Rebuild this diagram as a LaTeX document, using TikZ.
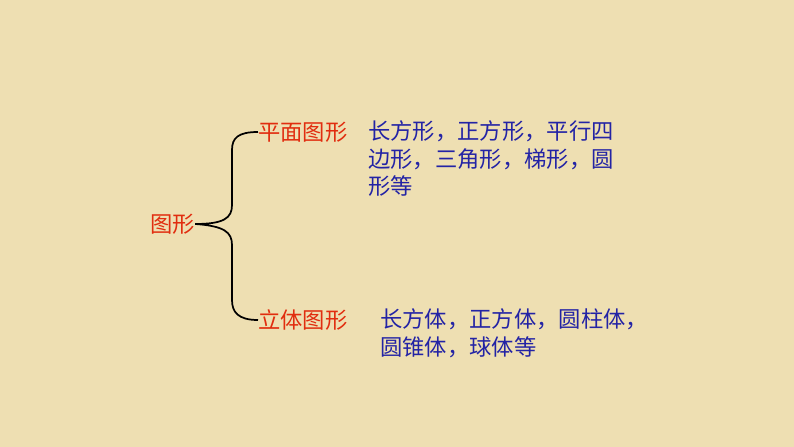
\documentclass[tikz,border=0pt]{standalone}
\usepackage{fontspec}
\setmainfont{Noto Sans CJK SC}
\definecolor{bgtan}{RGB}{238,223,178}
\definecolor{headred}{RGB}{225,45,15}
\definecolor{itemblue}{RGB}{35,35,165}
\tikzset{
  head/.style={text=headred, anchor=west, inner sep=0pt, font=\fontsize{16.8}{21}\selectfont},
  items/.style={text=itemblue, anchor=north west, inner sep=0pt, align=left, font=\fontsize{16.8}{21}\selectfont}
}
\begin{document}
\begin{tikzpicture}[x=0.02646cm, y=-0.02646cm]
% Background
\fill[bgtan] (0,0) rectangle (794,447);

% Labels
\node[head] (root) at (150,224) {图形};
\node[head] (plane) at (258,132) {平面图形};
\node[head] (solid) at (258,320) {立体图形};
\node[items] (planeitems) at (368,120) {长方形，正方形，平行四\\边形，三角形，梯形，圆\\形等};
\node[items] (soliditems) at (380,308) {长方体，正方体，圆柱体，\\圆锥体，球体等};

% Brace
\draw[black, line width=1.3pt]
  (plane.west) .. controls (238,132) and (232,138) .. (232,150)
  -- (232,205) .. controls (232,218) and (224,224) .. (root.east)
  .. controls (224,226) and (232,232) .. (232,245)
  -- (232,300) .. controls (232,312) and (238,320) .. (solid.west);
\end{tikzpicture}
\end{document}
